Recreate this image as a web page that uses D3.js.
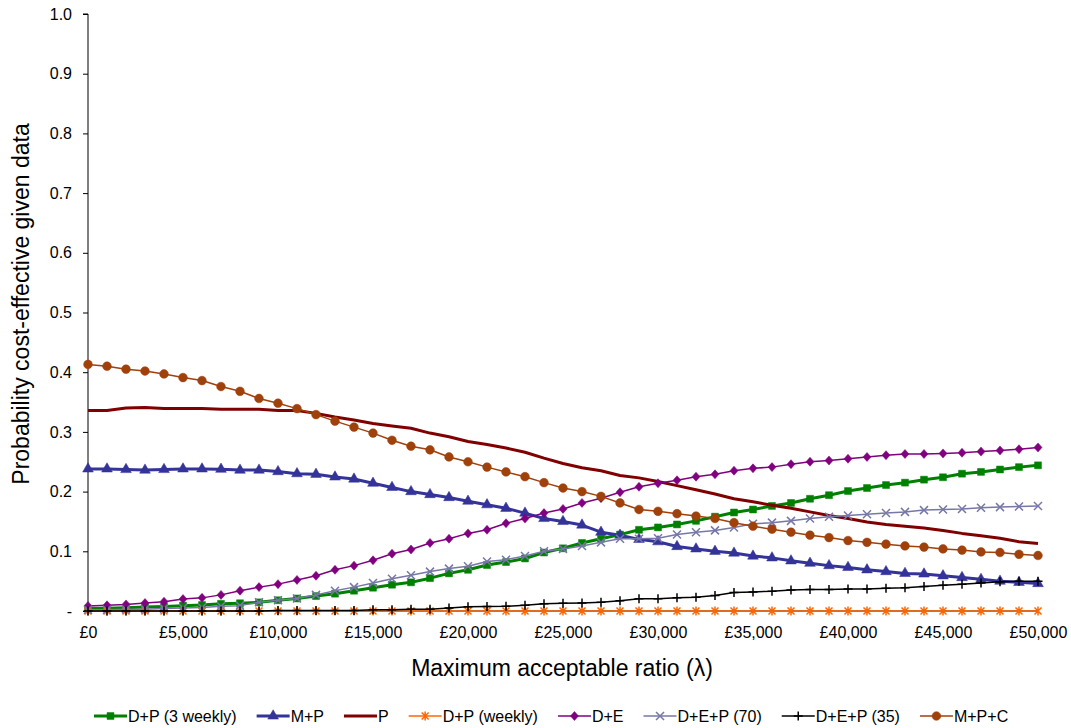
<!DOCTYPE html>
<html><head><meta charset="utf-8">
<script src="https://cdn.jsdelivr.net/npm/d3@7"></script>
<style>body{margin:0;background:#fff;} svg{display:block;font-family:Arial,"Liberation Sans",sans-serif;}</style>
</head><body>
<svg id="chart" width="1071" height="728"></svg>
<script>
const lambdas = d3.range(0, 50001, 1000);
const xTickValues = [0, 5000, 10000, 15000, 20000, 25000, 30000, 35000, 40000, 45000, 50000];
const yTickValues = [0, 0.1, 0.2, 0.3, 0.4, 0.5, 0.6, 0.7, 0.8, 0.9, 1.0];

const dp3weekly = [0.004,0.0045,0.0055,0.0065,0.0075,0.009,0.010,0.012,0.013,0.0145,0.018,0.021,0.025,0.029,0.034,0.039,0.044,0.048,0.055,0.063,0.069,0.077,0.082,0.088,0.098,0.105,0.114,0.121,0.128,0.136,0.140,0.145,0.151,0.158,0.165,0.170,0.176,0.181,0.188,0.194,0.201,0.206,0.211,0.215,0.220,0.224,0.230,0.233,0.237,0.241,0.244];
const mp = [0.238,0.238,0.237,0.236,0.237,0.238,0.238,0.2375,0.236,0.236,0.2335,0.230,0.229,0.2245,0.221,0.214,0.207,0.200,0.195,0.190,0.184,0.178,0.172,0.164,0.155,0.150,0.144,0.132,0.127,0.120,0.116,0.108,0.104,0.100,0.097,0.092,0.089,0.084,0.080,0.076,0.073,0.069,0.066,0.063,0.062,0.059,0.056,0.053,0.050,0.048,0.046];
const p = [0.336,0.336,0.340,0.341,0.339,0.339,0.339,0.338,0.338,0.338,0.336,0.336,0.331,0.325,0.320,0.314,0.310,0.306,0.298,0.292,0.284,0.279,0.273,0.266,0.256,0.247,0.240,0.235,0.227,0.223,0.217,0.210,0.203,0.196,0.188,0.183,0.177,0.172,0.166,0.160,0.155,0.149,0.145,0.142,0.139,0.135,0.130,0.126,0.122,0.116,0.113];
const dpweekly = [0,0,0,0,0,0,0,0,0,0,0,0,0,0,0,0,0,0,0,0,0,0,0,0,0,0,0,0,0,0,0,0,0,0,0,0,0,0,0,0,0,0,0,0,0,0,0,0,0,0,0];
const de = [0.0084,0.0095,0.011,0.0134,0.0156,0.020,0.022,0.027,0.034,0.040,0.045,0.052,0.059,0.069,0.076,0.085,0.096,0.103,0.114,0.121,0.130,0.136,0.147,0.155,0.164,0.171,0.181,0.189,0.199,0.208,0.214,0.219,0.225,0.229,0.235,0.239,0.241,0.246,0.250,0.252,0.255,0.258,0.261,0.263,0.263,0.264,0.265,0.267,0.269,0.271,0.274];
const dep70 = [0.002,0.002,0.003,0.003,0.004,0.005,0.006,0.008,0.009,0.0145,0.018,0.021,0.027,0.034,0.040,0.047,0.054,0.060,0.066,0.071,0.075,0.083,0.086,0.092,0.100,0.104,0.109,0.115,0.121,0.121,0.122,0.128,0.132,0.135,0.140,0.146,0.148,0.151,0.155,0.158,0.160,0.162,0.164,0.166,0.169,0.170,0.171,0.173,0.174,0.175,0.176];
const dep35 = [0,0,0,0,0,0,0,0,0,0,0.001,0.001,0.001,0.001,0.001,0.002,0.002,0.003,0.003,0.005,0.007,0.0075,0.008,0.0095,0.012,0.013,0.0134,0.0145,0.017,0.0206,0.0206,0.022,0.023,0.026,0.031,0.032,0.033,0.035,0.036,0.036,0.037,0.037,0.038,0.039,0.041,0.043,0.045,0.047,0.049,0.050,0.050];
const mpc = [0.413,0.410,0.405,0.402,0.397,0.391,0.386,0.376,0.368,0.356,0.348,0.339,0.329,0.318,0.308,0.298,0.286,0.276,0.270,0.258,0.250,0.241,0.233,0.225,0.215,0.206,0.200,0.192,0.181,0.170,0.167,0.163,0.159,0.155,0.148,0.142,0.137,0.132,0.127,0.123,0.118,0.115,0.112,0.109,0.107,0.104,0.102,0.099,0.098,0.095,0.093];

const seriesNames = ["D+P (3 weekly)","M+P","P","D+P (weekly)","D+E","D+E+P (70)","D+E+P (35)","M+P+C"];
const seriesValues = [dp3weekly, mp, p, dpweekly, de, dep70, dep35, mpc];

const styles = [
  {color:"#008000", width:3, marker:"square"},
  {color:"#333399", width:3, marker:"triangle"},
  {color:"#800000", width:3, marker:"none"},
  {color:"#FF6600", width:1.5, marker:"asterisk"},
  {color:"#800080", width:1.5, marker:"diamond"},
  {color:"#7777A8", width:1.5, marker:"x"},
  {color:"#000000", width:1.5, marker:"plus"},
  {color:"#A0400B", width:1.5, marker:"circle"}
];

const svg = d3.select("#chart");
const m = {left:88, right:1038, top:14, bottom:611};
const x = d3.scaleLinear().domain([0,50000]).range([m.left, m.right]);
const y = d3.scaleLinear().domain([0,1]).range([m.bottom, m.top]);

// axes
const yAxis = d3.axisLeft(y).tickValues(yTickValues).tickSize(5).tickPadding(11)
  .tickFormat(d => d === 0 ? "-" : d3.format(".1f")(d));
const gy = svg.append("g").attr("transform", `translate(${m.left},0)`).call(yAxis);
gy.selectAll("text").attr("font-size", 16).attr("fill", "#000").attr("font-family","Arial, 'Liberation Sans', sans-serif");
gy.selectAll("line,path").attr("stroke", "#000");
gy.select(".domain").attr("d", `M-5,${m.top}H0V${m.bottom}`);

const xAxis = d3.axisBottom(x).tickValues(xTickValues).tickSize(0).tickPadding(16)
  .tickFormat(d => "£" + d3.format(",")(d));
const gx = svg.append("g").attr("transform", `translate(0,${m.bottom})`).call(xAxis);
gx.selectAll("text").attr("font-size", 16).attr("fill", "#000").attr("font-family","Arial, 'Liberation Sans', sans-serif");
gx.select(".domain").attr("stroke", "#000").attr("d", `M${m.left},0H${m.right}`);

// titles
svg.append("text").attr("x", 562).attr("y", 676).attr("text-anchor","middle")
  .attr("font-size", 23).text("Maximum acceptable ratio (λ)");
svg.append("text").attr("transform", "translate(29,304) rotate(-90)").attr("text-anchor","middle")
  .attr("font-size", 23).text("Probability cost-effective given data");

function markerPath(type) {
  switch (type) {
    case "square": return d3.symbol(d3.symbolSquare, 48)();
    case "triangle": return d3.symbol(d3.symbolTriangle, 50)();
    case "diamond": return "M0,-4.5L4,0L0,4.5L-4,0Z";
    case "circle": return d3.symbol(d3.symbolCircle, 60)();
    case "x": return "M-4,-4L4,4M-4,4L4,-4";
    case "plus": return "M-4.5,0H4.5M0,-4.5V4.5";
    case "asterisk": return "M-3.5,-3.5L3.5,3.5M-3.5,3.5L3.5,-3.5M0,-4.5V4.5";
  }
  return null;
}
const strokeMarkers = new Set(["x","plus","asterisk"]);

const line = d3.line().x((d,i) => x(lambdas[i])).y(d => y(d));

const plot = svg.append("g");
seriesValues.forEach((vals, si) => {
  const st = styles[si];
  const g = plot.append("g");
  g.append("path").datum(vals).attr("d", line).attr("fill","none")
    .attr("stroke", st.color).attr("stroke-width", st.width).attr("stroke-linejoin","round");
  if (st.marker !== "none") {
    const pth = markerPath(st.marker);
    g.selectAll("path.mk").data(vals).join("path").attr("class","mk")
      .attr("transform", (d,i) => `translate(${x(lambdas[i])},${y(d)})`)
      .attr("d", pth)
      .attr("fill", strokeMarkers.has(st.marker) ? "none" : st.color)
      .attr("stroke", st.color)
      .attr("stroke-width", strokeMarkers.has(st.marker) ? 1.5 : 0.5);
  }
});

// legend
const legend = svg.append("g").attr("transform", "translate(0,716)");
let lx = 94;
seriesNames.forEach((name, si) => {
  const st = styles[si];
  const g = legend.append("g").attr("transform", `translate(${lx},0)`);
  g.append("line").attr("x1",0).attr("x2",33).attr("y1",0).attr("y2",0)
    .attr("stroke", st.color).attr("stroke-width", st.width);
  if (st.marker !== "none") {
    g.append("path").attr("transform","translate(16.5,0)").attr("d", markerPath(st.marker))
      .attr("fill", strokeMarkers.has(st.marker) ? "none" : st.color)
      .attr("stroke", st.color).attr("stroke-width", strokeMarkers.has(st.marker) ? 1.5 : 0.5);
  }
  const t = g.append("text").attr("x", 34).attr("y", 6).attr("font-size", 16).text(name);
  lx += 34 + t.node().getComputedTextLength() + 20;
});
</script>
</body></html>
